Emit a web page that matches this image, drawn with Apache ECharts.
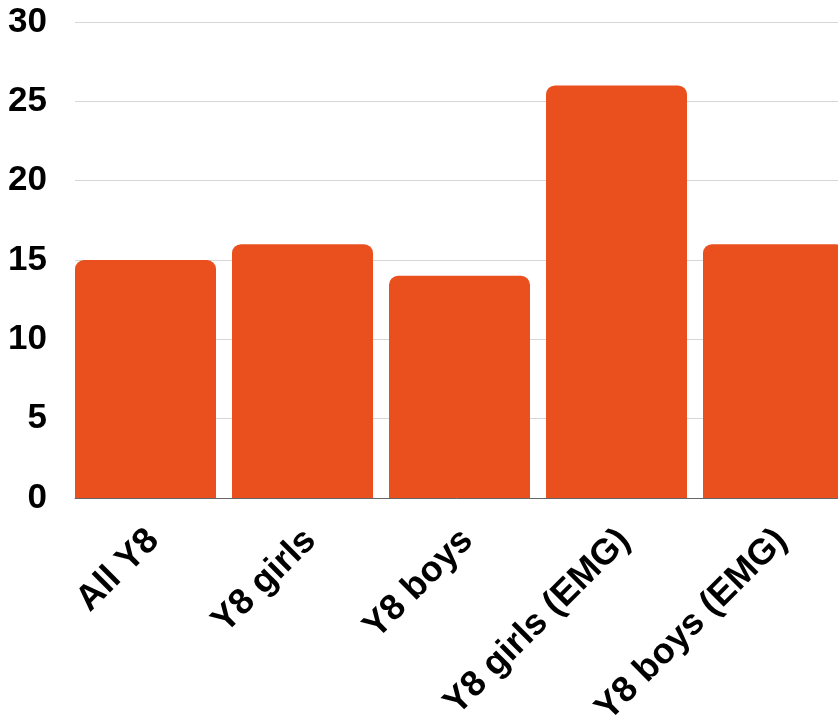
<!DOCTYPE html>
<html>
<head>
<meta charset="utf-8">
<script src="https://cdn.jsdelivr.net/npm/echarts@6/dist/echarts.min.js"></script>
<style>
  html, body { margin: 0; padding: 0; background: #fff; }
  #chart { width: 838px; height: 715px; }
</style>
</head>
<body>
<div id="chart"></div>
<script>
// Categories and values
const categories = ['All Y8', 'Y8 girls', 'Y8 boys', 'Y8 girls (EMG)', 'Y8 boys (EMG)'];
const values = [15, 16, 14, 26, 16];
const yTicks = { min: 0, max: 30, step: 5 };

const chart = echarts.init(document.getElementById('chart'), null, { renderer: 'canvas' });

const FONT = '"Liberation Sans", Arial, Helvetica, sans-serif';

chart.setOption({
  animation: false,
  backgroundColor: '#ffffff',
  // plot runs past the right edge so the last bar is cut off
  grid: {
    left: 75, width: 785, top: 22, bottom: 217,
    containLabel: false,
    outerBoundsMode: 'none'
  },
  xAxis: {
    type: 'category',
    data: categories,
    axisTick: { show: false },
    axisLine: { show: true, lineStyle: { color: '#666666', width: 1 } },
    axisLabel: {
      interval: 0,
      rotate: 45,
      margin: 37,
      padding: [98, 0, 0, 0],
      color: '#000000',
      fontFamily: FONT,
      fontWeight: 'bold',
      fontSize: 36
    }
  },
  yAxis: {
    type: 'value',
    min: yTicks.min,
    max: yTicks.max,
    interval: yTicks.step,
    axisLine: { show: false },
    axisTick: { show: false },
    splitLine: { lineStyle: { color: '#d6d6d6', width: 1 } },
    axisLabel: {
      margin: 28,
      color: '#000000',
      fontFamily: FONT,
      fontWeight: 'bold',
      fontSize: 35
    }
  },
  series: [
    {
      name: 'Share',
      type: 'bar',
      data: values,
      barWidth: 141,
      barGap: '0%',
      itemStyle: { color: '#E9501E', borderRadius: [9, 9, 0, 0] }
    },
    {
      // empty spacer that keeps each bar flush with the left of its slot
      name: 'spacer',
      type: 'bar',
      data: categories.map(() => '-'),
      barWidth: 16,
      silent: true
    }
  ]
});
</script>
</body>
</html>
